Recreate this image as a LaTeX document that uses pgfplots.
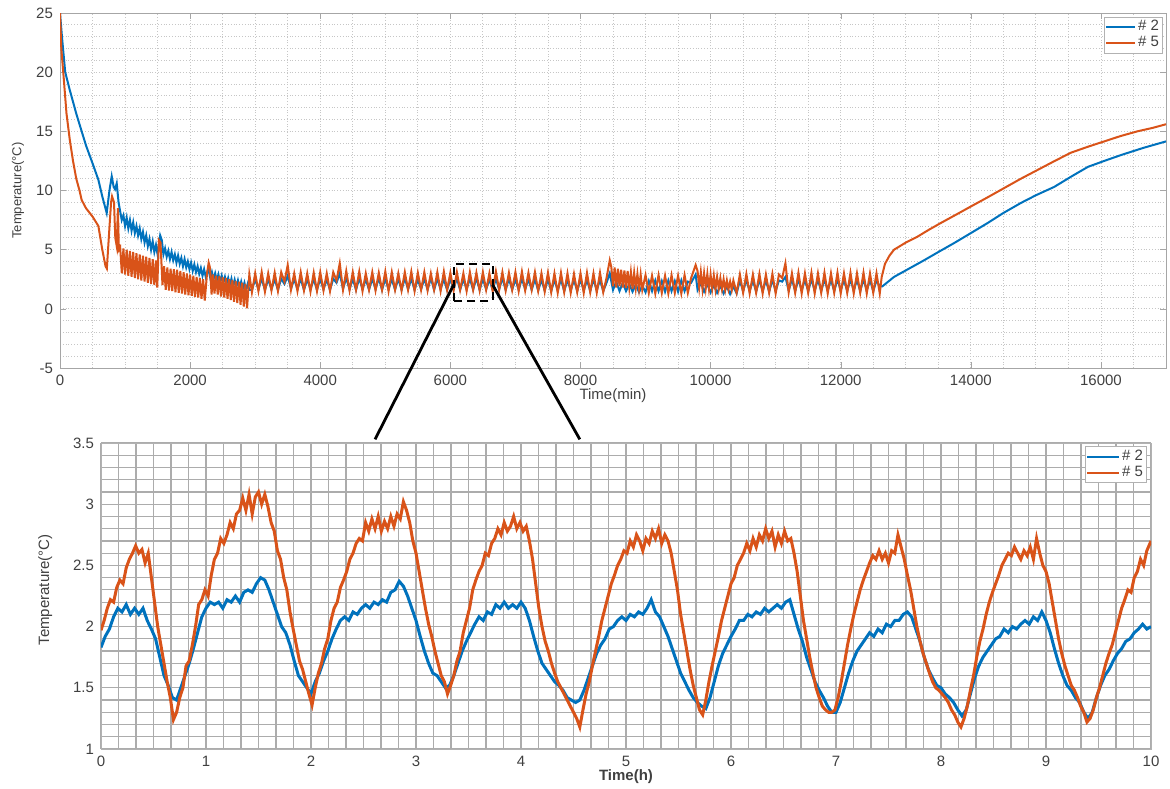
\documentclass[border=0pt]{standalone}
\usepackage{pgfplots}
\pgfplotsset{compat=1.18}
\usepackage{fontspec}
\setmainfont{Liberation Sans}
\definecolor{mblue}{rgb}{0,0.447,0.741}
\definecolor{morange}{rgb}{0.85,0.325,0.098}
\definecolor{tickc}{gray}{0.25}
\begin{document}
\begin{tikzpicture}
\useasboundingbox (0,0) rectangle (585pt,-394pt);
% ---------------- top axis ----------------
\begin{axis}[
  at={(30pt,-184pt)}, anchor=south west,
  width=553pt, height=177.5pt, scale only axis,
  xmin=0, xmax=17000, ymin=-5, ymax=25,
  xtick={0,2000,...,16000}, minor xtick={0,500,...,17000},
  ytick={-5,0,...,25}, minor ytick={-5,-4,...,25},
  grid=both,
  major grid style={gray!45, densely dotted, line width=0.4pt},
  minor grid style={gray!45, densely dotted, line width=0.4pt},
  minor tick length=0pt, major tick length=3pt,
  axis line style={gray!70}, tick style={gray!70},
  scaled x ticks=false,
  /pgf/number format/assume math mode=true,
  xticklabel style={/pgf/number format/1000 sep={}},
  tick label style={font=\fontsize{7.5}{9}\selectfont, text=tickc},
  xlabel={Time(min)}, ylabel={Temperature(°C)},
  xlabel style={at={(axis description cs:0.5,-0.078)}, anchor=center, font=\fontsize{7.5}{9}\selectfont, text=tickc},
  ylabel style={at={(axis description cs:-0.038,0.5)}, anchor=center, font=\fontsize{6.5}{8}\selectfont, text=tickc},
  legend style={at={(0.997,0.99)}, anchor=north east, font=\fontsize{7.5}{8}\selectfont, text=tickc, draw=gray!60, inner sep=0.5pt, row sep=-1pt, nodes={inner sep=1.2pt}, legend cell align=left},
  legend image code/.code={\draw[#1, line width=0.9pt] (0cm,0cm) -- (0.5cm,0cm);},
]
\addplot[mblue, line width=1pt] coordinates {
(0,25)(30,23)(80,20)(150,18.5)(250,16.5)(333,15)(400,13.8)(500,12.3)(590,10.9)(650,9.5)(718,8.1)(760,10)(795,11.2)(825,10.3)(846,10.1)(872,10.6)(900,9)(949,7.5)
(975,7.9)(1000,7.0)(1025,7.7)(1050,6.8)(1075,7.5)(1100,6.6)(1125,7.3)(1150,6.4)(1175,7.0)(1200,6.2)(1225,6.8)(1250,5.9)(1275,6.5)(1300,5.6)(1325,6.2)(1350,5.3)(1375,5.9)(1400,5.0)(1425,5.7)(1450,4.8)(1475,5.4)(1500,4.6)(1540,6.2)(1565,5.8)(1590,4.6)
(1615,5.1)(1640,4.4)(1665,4.9)(1690,4.2)(1715,4.8)(1740,4.1)(1765,4.6)(1790,3.9)(1815,4.5)(1840,3.8)(1865,4.3)(1890,3.6)(1915,4.2)(1940,3.5)(1965,4.0)(1990,3.35)(2015,3.9)(2040,3.2)(2065,3.75)(2090,3.1)(2115,3.6)(2140,2.95)(2165,3.45)(2190,2.8)(2215,3.35)(2240,2.7)(2280,3.4)(2310,2.6)
(2335,3.1)(2360,2.5)(2385,3.0)(2410,2.4)(2435,2.9)(2460,2.3)(2485,2.8)(2510,2.2)(2535,2.7)(2560,2.1)(2585,2.6)(2610,2.0)(2635,2.55)(2660,1.9)(2685,2.45)(2710,1.85)(2735,2.4)(2760,1.75)(2785,2.3)(2810,1.7)(2835,2.2)(2860,1.6)(2885,2.1)(2910,1.6)(2950,1.6)
(3000,2.5)(3050,1.65)(3100,2.55)(3150,1.6)(3200,2.5)(3250,1.65)(3300,2.5)(3350,1.6)(3400,2.55)(3450,2.1)(3500,2.8)(3550,1.7)(3600,2.5)(3650,1.65)(3700,2.55)(3750,1.6)(3800,2.5)(3850,1.65)(3900,2.5)(3950,1.6)
(4000,2.55)(4050,1.65)(4100,2.5)(4150,1.6)(4200,2.55)(4250,2.2)(4300,3.0)(4350,1.7)(4400,2.6)(4450,1.65)(4500,2.55)(4550,1.6)(4600,2.6)(4650,1.65)(4700,2.5)(4750,1.62)(4800,2.55)(4850,1.65)(4900,2.6)(4950,1.6)
(5000,2.55)(5050,1.65)(5100,2.5)(5150,1.62)(5200,2.55)(5250,1.6)(5300,2.6)(5350,1.65)(5400,2.55)(5450,1.6)(5500,2.5)(5550,1.65)(5600,2.55)(5650,1.62)(5700,2.6)(5750,1.6)(5800,2.55)(5850,1.65)(5900,2.5)(5950,1.6)
(6000,2.55)(6050,1.65)(6100,2.6)(6150,1.6)(6200,2.5)(6250,1.65)(6300,2.55)(6350,1.62)(6400,2.6)(6450,1.6)(6500,2.55)(6550,1.65)(6600,2.5)(6650,1.6)(6700,2.55)(6750,1.65)(6800,2.6)(6850,1.6)(6900,2.55)(6950,1.62)
(7000,2.5)(7050,1.6)(7100,2.55)(7150,1.65)(7200,2.5)(7250,1.6)(7300,2.5)(7350,1.55)(7400,2.45)(7450,1.55)(7500,2.5)(7550,1.5)(7600,2.45)(7650,1.55)(7700,2.5)(7750,1.5)(7800,2.45)(7850,1.55)(7900,2.45)(7950,1.5)
(8000,2.5)(8050,1.55)(8100,2.45)(8150,1.5)(8200,2.5)(8250,1.55)(8300,2.45)(8350,1.5)(8400,2.2)(8450,3.0)(8500,1.6)(8550,2.3)(8600,1.5)(8650,2.2)(8700,1.5)(8750,2.1)(8800,1.45)(8850,2.05)(8900,1.4)(8950,1.95)
(9000,1.4)(9050,2.35)(9100,1.5)(9150,2.4)(9200,1.5)(9250,2.35)(9300,1.45)(9350,2.4)(9400,1.5)(9450,2.35)(9500,1.45)(9550,2.4)(9600,1.5)(9650,2.3)(9700,2.2)(9770,2.9)(9800,1.6)(9850,2.2)(9900,1.45)(9950,2.1)
(10000,1.4)(10050,2.0)(10100,1.35)(10150,1.95)(10200,1.3)(10250,1.9)(10300,1.25)(10350,1.9)(10400,1.3)(10450,2.4)(10500,1.5)(10550,2.45)(10600,1.5)(10650,2.4)(10700,1.45)(10750,2.45)(10800,1.5)(10850,2.4)(10900,1.45)(10950,2.45)
(11000,1.5)(11050,2.4)(11100,2.3)(11150,2.7)(11200,1.55)(11250,2.5)(11300,1.5)(11350,2.5)(11400,1.55)(11450,2.45)(11500,1.5)(11550,2.5)(11600,1.55)(11650,2.45)(11700,1.5)(11750,2.5)(11800,1.55)(11850,2.45)(11900,1.5)(11950,2.5)
(12000,1.55)(12050,2.45)(12100,1.5)(12150,2.5)(12200,1.55)(12250,2.45)(12300,1.5)(12350,2.5)(12400,1.55)(12450,2.45)(12500,1.5)(12550,2.4)(12600,1.9)(12640,1.9)
(12820,2.7)(13050,3.4)(13280,4.1)(13500,4.8)(13740,5.55)(14000,6.4)(14260,7.26)(14500,8.1)(14770,8.95)(15000,9.6)(15280,10.3)(15550,11.2)(15800,12.0)(16050,12.5)(16310,13.0)(16650,13.6)(17000,14.15)
};
\addlegendentry{\# 2}
\addplot[morange, line width=1pt] coordinates {
(0,25)(20,22)(50,20)(100,16.5)(150,14.3)(200,12.5)(250,11)(300,10)(333,9.2)(400,8.5)(500,7.8)(590,7.0)(650,5)(700,3.6)(720,3.4)(750,6)(785,9.0)(800,9.5)(830,9.0)(850,6)(872,5.3)(890,8.5)(905,5.0)
(925,5.2)(950,3.0)(975,5.1)(1000,2.9)(1025,5.0)(1050,2.8)(1075,4.9)(1100,2.7)(1125,4.8)(1150,2.6)(1175,4.7)(1200,2.5)(1225,4.6)(1250,2.4)(1275,4.5)(1300,2.3)(1325,4.4)(1350,2.2)(1375,4.3)(1400,2.1)(1425,4.2)(1450,2.0)(1475,4.1)(1495,1.8)
(1520,5.8)(1545,5.6)(1575,2.0)
(1600,3.6)(1625,1.6)(1650,3.5)(1675,1.55)(1700,3.4)(1725,1.5)(1750,3.35)(1775,1.4)(1800,3.3)(1825,1.35)(1850,3.2)(1875,1.3)(1900,3.1)(1925,1.2)(1950,3.0)(1975,1.15)(2000,2.9)(2025,1.1)(2050,2.8)(2075,1.0)(2100,2.7)(2125,0.95)(2150,2.6)(2175,0.85)(2200,2.5)(2225,0.7)
(2260,3.0)(2285,3.9)(2305,3.5)(2330,1.2)
(2350,2.9)(2375,1.3)(2400,2.8)(2425,1.2)(2450,2.75)(2475,1.05)(2500,2.7)(2525,0.95)(2550,2.6)(2575,0.85)(2600,2.5)(2625,0.75)(2650,2.45)(2675,0.6)(2700,2.35)(2725,0.5)(2750,2.3)(2775,0.35)(2800,2.2)(2825,0.2)(2850,2.1)(2875,0.05)
(2910,2.9)(2950,1.4)(3000,3.0)(3050,1.5)(3100,3.1)(3150,1.45)(3200,3.0)(3250,1.55)(3300,3.05)(3350,1.5)(3400,3.1)(3450,2.3)(3500,3.7)(3550,1.6)(3600,3.0)(3650,1.5)(3700,3.1)(3750,1.55)(3800,3.0)(3850,1.45)(3900,3.05)(3950,1.5)
(4000,3.1)(4050,1.55)(4100,3.0)(4150,1.5)(4200,3.1)(4250,2.4)(4300,3.85)(4350,1.6)(4400,3.2)(4450,1.55)(4500,3.1)(4550,1.6)(4600,3.15)(4650,1.5)(4700,3.0)(4750,1.6)(4800,3.1)(4850,1.55)(4900,3.05)(4950,1.6)
(5000,3.15)(5050,1.5)(5100,3.1)(5150,1.6)(5200,3.0)(5250,1.55)(5300,3.1)(5350,1.6)(5400,3.15)(5450,1.5)(5500,3.05)(5550,1.6)(5600,3.1)(5650,1.55)(5700,3.0)(5750,1.6)(5800,3.1)(5850,1.5)(5900,3.15)(5950,1.6)
(6000,3.05)(6050,1.55)(6100,3.1)(6150,1.6)(6200,3.0)(6250,1.5)(6300,3.1)(6350,1.6)(6400,3.05)(6450,1.55)(6500,3.1)(6550,1.6)(6600,3.0)(6650,1.5)(6700,3.15)(6750,1.6)(6800,3.1)(6850,1.55)(6900,3.05)(6950,1.6)
(7000,3.1)(7050,1.5)(7100,3.15)(7150,1.55)(7200,3.05)(7250,1.6)(7300,3.1)(7350,1.5)(7400,3.0)(7450,1.45)(7500,3.05)(7550,1.4)(7600,3.0)(7650,1.35)(7700,3.05)(7750,1.4)(7800,3.0)(7850,1.35)(7900,2.95)(7950,1.4)
(8000,3.0)(8050,1.35)(8100,3.05)(8150,1.4)(8200,3.0)(8250,1.35)(8300,3.05)(8350,1.4)(8400,2.6)(8450,4.1)(8475,3.5)(8500,1.9)(8525,3.5)(8550,1.8)(8575,3.4)(8600,1.9)(8625,3.3)(8650,1.8)(8675,3.25)(8700,1.75)(8725,3.2)(8750,1.8)(8775,3.1)(8800,1.7)(8825,3.05)(8850,1.75)(8875,2.95)(8900,1.7)(8925,2.9)(8950,1.6)
(9000,2.85)(9050,1.35)(9100,2.8)(9150,1.3)(9200,2.85)(9250,1.35)(9300,2.8)(9350,1.3)(9400,2.85)(9450,1.35)(9500,2.8)(9550,1.3)(9600,2.85)(9650,1.35)(9700,2.6)(9770,3.7)(9800,3.2)(9825,1.8)(9850,3.1)(9875,1.7)(9900,3.0)(9925,1.75)(9950,2.95)(9975,1.7)
(10000,2.9)(10025,1.7)(10050,2.8)(10075,1.65)(10100,2.7)(10125,1.7)(10150,2.6)(10175,1.65)(10200,2.5)(10225,1.6)(10250,2.4)(10275,1.65)(10300,2.3)(10325,1.6)(10350,2.4)(10400,1.35)(10450,2.9)(10500,1.35)(10550,2.95)(10600,1.3)(10650,2.9)(10700,1.35)(10750,2.95)(10800,1.3)(10850,2.9)(10900,1.35)(10950,2.95)
(11000,1.3)(11050,2.9)(11100,2.6)(11150,3.85)(11200,1.4)(11250,3.0)(11300,1.35)(11350,3.05)(11400,1.3)(11450,3.0)(11500,1.35)(11550,3.05)(11600,1.3)(11650,3.0)(11700,1.35)(11750,3.05)(11800,1.3)(11850,3.0)(11900,1.35)(11950,3.05)
(12000,1.3)(12050,3.0)(12100,1.35)(12150,3.05)(12200,1.3)(12250,3.0)(12300,1.35)(12350,3.05)(12400,1.3)(12450,3.0)(12500,1.35)(12550,3.0)(12600,1.3)(12630,2.7)
(12680,3.8)(12750,4.5)(12820,5.0)(13000,5.6)(13180,6.1)(13360,6.7)(13540,7.26)(13770,7.95)(14000,8.65)(14250,9.4)(14510,10.2)(14770,11.0)(15030,11.75)(15290,12.5)(15540,13.2)(15800,13.7)(16050,14.15)(16300,14.6)(16560,15.0)(16800,15.3)(17000,15.6)
};
\addlegendentry{\# 5}
\draw[black, line width=1pt, dash pattern=on 4pt off 2.5pt] (axis cs:6050,0.7) rectangle (axis cs:6650,3.8);
\coordinate (tl) at (axis cs:6050,2.03);
\coordinate (tr) at (axis cs:6650,2.03);
\end{axis}
% ---------------- bottom axis ----------------
\begin{axis}[
  at={(50.5pt,-374.5pt)}, anchor=south west,
  width=525pt, height=153pt, scale only axis,
  xmin=0, xmax=10, ymin=1, ymax=3.5,
  xtick={0,1,...,10}, minor x tick num=5,
  ytick={1,1.5,...,3.5}, minor y tick num=4,
  grid=both,
  major grid style={gray!65, line width=0.6pt},
  minor grid style={gray!65, line width=0.6pt},
  minor tick length=0pt, major tick length=0pt,
  axis line style={gray!60},
  /pgf/number format/assume math mode=true,
  tick label style={font=\fontsize{7.5}{9}\selectfont, text=tickc},
  xlabel={\textbf{Time(h)}}, ylabel={Temperature(°C)},
  xlabel style={at={(axis description cs:0.5,-0.09)}, anchor=center, font=\fontsize{7.5}{9}\selectfont, text=tickc},
  ylabel style={at={(axis description cs:-0.053,0.52)}, anchor=center, font=\fontsize{7.5}{8}\selectfont, text=tickc},
  legend style={at={(0.996,0.99)}, anchor=north east, font=\fontsize{7.5}{8}\selectfont, text=tickc, draw=gray!60, inner sep=0.5pt, row sep=-1pt, nodes={inner sep=1.2pt}, legend cell align=left},
  legend image code/.code={\draw[#1, line width=1.1pt] (0cm,0cm) -- (0.55cm,0cm);},
]
\addplot[mblue, line width=1.5pt] coordinates {
(0,1.83)(0.04,1.92)(0.08,1.98)(0.12,2.08)(0.16,2.15)(0.2,2.12)(0.24,2.18)(0.28,2.1)(0.32,2.15)(0.36,2.1)(0.4,2.15)(0.44,2.05)(0.48,1.98)(0.52,1.9)(0.56,1.75)(0.6,1.6)(0.64,1.52)(0.68,1.42)(0.72,1.4)(0.76,1.5)(0.8,1.6)(0.84,1.7)(0.88,1.82)(0.92,1.95)(0.96,2.08)
(1.0,2.15)(1.04,2.2)(1.08,2.18)(1.12,2.2)(1.16,2.15)(1.2,2.22)(1.24,2.2)(1.28,2.25)(1.32,2.2)(1.36,2.28)(1.4,2.3)(1.44,2.28)(1.48,2.35)(1.52,2.4)(1.56,2.38)(1.6,2.3)(1.64,2.2)(1.68,2.1)(1.72,2.0)(1.76,1.95)(1.8,1.85)(1.84,1.72)(1.88,1.6)(1.92,1.55)(1.96,1.5)
(2.0,1.45)(2.04,1.55)(2.08,1.62)(2.12,1.72)(2.16,1.8)(2.2,1.9)(2.24,1.98)(2.28,2.05)(2.32,2.08)(2.36,2.05)(2.4,2.12)(2.44,2.1)(2.48,2.15)(2.52,2.18)(2.56,2.15)(2.6,2.2)(2.64,2.18)(2.68,2.22)(2.72,2.2)(2.76,2.28)(2.8,2.3)(2.84,2.37)(2.88,2.33)(2.92,2.25)(2.96,2.15)
(3.0,2.05)(3.04,1.92)(3.08,1.8)(3.12,1.7)(3.16,1.62)(3.2,1.6)(3.24,1.55)(3.28,1.5)(3.32,1.52)(3.36,1.6)(3.4,1.7)(3.44,1.8)(3.48,1.88)(3.52,1.95)(3.56,2.02)(3.6,2.08)(3.64,2.05)(3.68,2.12)(3.72,2.1)(3.76,2.18)(3.8,2.15)(3.84,2.2)(3.88,2.15)(3.92,2.18)(3.96,2.15)
(4.0,2.2)(4.04,2.15)(4.08,2.05)(4.12,1.92)(4.16,1.8)(4.2,1.7)(4.24,1.65)(4.28,1.6)(4.32,1.55)(4.36,1.52)(4.4,1.48)(4.44,1.42)(4.48,1.4)(4.52,1.38)(4.56,1.4)(4.6,1.48)(4.64,1.58)(4.68,1.68)(4.72,1.78)(4.76,1.85)(4.8,1.9)(4.84,1.98)(4.88,2.0)(4.92,2.05)(4.96,2.08)
(5.0,2.05)(5.04,2.1)(5.08,2.08)(5.12,2.12)(5.16,2.1)(5.2,2.15)(5.24,2.22)(5.28,2.12)(5.32,2.08)(5.36,2.0)(5.4,1.92)(5.44,1.82)(5.48,1.72)(5.52,1.62)(5.56,1.55)(5.6,1.48)(5.64,1.42)(5.68,1.38)(5.72,1.35)(5.76,1.33)(5.8,1.42)(5.84,1.55)(5.88,1.68)(5.92,1.78)(5.96,1.85)
(6.0,1.92)(6.04,1.98)(6.08,2.05)(6.12,2.05)(6.16,2.1)(6.2,2.08)(6.24,2.12)(6.28,2.1)(6.32,2.15)(6.36,2.12)(6.4,2.15)(6.44,2.18)(6.48,2.15)(6.52,2.2)(6.56,2.22)(6.6,2.1)(6.64,1.98)(6.68,1.88)(6.72,1.75)(6.76,1.65)(6.8,1.55)(6.84,1.48)(6.88,1.42)(6.92,1.35)(6.96,1.3)
(7.0,1.3)(7.04,1.38)(7.08,1.5)(7.12,1.62)(7.16,1.72)(7.2,1.8)(7.24,1.85)(7.28,1.9)(7.32,1.95)(7.36,1.92)(7.4,1.98)(7.44,1.95)(7.48,2.02)(7.52,2.0)(7.56,2.05)(7.6,2.05)(7.64,2.1)(7.68,2.12)(7.72,2.08)(7.76,1.98)(7.8,1.88)(7.84,1.75)(7.88,1.65)(7.92,1.58)(7.96,1.52)
(8.0,1.5)(8.04,1.45)(8.08,1.42)(8.12,1.38)(8.16,1.32)(8.2,1.27)(8.24,1.32)(8.28,1.45)(8.32,1.58)(8.36,1.68)(8.4,1.75)(8.44,1.8)(8.48,1.85)(8.52,1.9)(8.56,1.92)(8.6,1.98)(8.64,1.95)(8.68,2.0)(8.72,1.98)(8.76,2.02)(8.8,2.05)(8.84,2.02)(8.88,2.08)(8.92,2.05)(8.96,2.12)
(9.0,2.05)(9.04,1.95)(9.08,1.82)(9.12,1.7)(9.16,1.6)(9.2,1.52)(9.24,1.48)(9.28,1.42)(9.32,1.38)(9.36,1.3)(9.4,1.25)(9.44,1.3)(9.48,1.42)(9.52,1.52)(9.56,1.6)(9.6,1.65)(9.64,1.72)(9.68,1.78)(9.72,1.82)(9.76,1.88)(9.8,1.9)(9.84,1.95)(9.88,1.98)(9.92,2.02)(9.96,1.98)(10.0,2.0)
};
\addlegendentry{\# 2}
\addplot[morange, line width=1.5pt] coordinates {
(0,1.97)(0.03,2.05)(0.06,2.15)(0.09,2.22)(0.12,2.2)(0.15,2.32)(0.18,2.38)(0.21,2.35)(0.24,2.48)(0.27,2.55)(0.3,2.6)(0.33,2.66)(0.36,2.6)(0.39,2.63)(0.42,2.52)(0.45,2.6)(0.48,2.4)(0.51,2.2)(0.54,2.0)(0.57,1.85)(0.6,1.7)(0.63,1.55)(0.66,1.42)(0.69,1.24)(0.72,1.3)(0.75,1.42)(0.78,1.5)(0.81,1.68)(0.84,1.72)(0.87,1.85)(0.9,2.0)(0.93,2.18)(0.96,2.22)(0.99,2.3)
(1.02,2.25)(1.05,2.42)(1.08,2.55)(1.11,2.6)(1.14,2.72)(1.17,2.68)(1.2,2.75)(1.23,2.85)(1.26,2.8)(1.29,2.92)(1.32,2.95)(1.35,3.05)(1.38,2.95)(1.41,3.08)(1.44,2.92)(1.47,3.06)(1.5,3.1)(1.53,3.0)(1.56,3.08)(1.59,2.98)(1.62,2.85)(1.65,2.78)(1.68,2.62)(1.71,2.55)(1.74,2.4)(1.77,2.3)(1.8,2.12)(1.83,1.98)(1.86,1.85)(1.89,1.72)(1.92,1.65)(1.95,1.55)(1.98,1.45)
(2.01,1.36)(2.04,1.5)(2.07,1.62)(2.1,1.7)(2.13,1.82)(2.16,1.9)(2.19,2.05)(2.22,2.15)(2.25,2.2)(2.28,2.32)(2.31,2.38)(2.34,2.45)(2.37,2.55)(2.4,2.6)(2.43,2.68)(2.46,2.72)(2.49,2.7)(2.52,2.85)(2.55,2.78)(2.58,2.88)(2.61,2.8)(2.64,2.9)(2.67,2.78)(2.7,2.86)(2.73,2.8)(2.76,2.9)(2.79,2.82)(2.82,2.92)(2.85,2.88)(2.88,3.02)(2.91,2.95)(2.94,2.85)(2.97,2.7)
(3.0,2.6)(3.03,2.45)(3.06,2.3)(3.09,2.15)(3.12,2.02)(3.15,1.92)(3.18,1.8)(3.21,1.7)(3.24,1.6)(3.27,1.55)(3.3,1.45)(3.33,1.52)(3.36,1.6)(3.39,1.72)(3.42,1.8)(3.45,1.95)(3.48,2.05)(3.51,2.15)(3.54,2.3)(3.57,2.38)(3.6,2.45)(3.63,2.5)(3.66,2.6)(3.69,2.58)(3.72,2.68)(3.75,2.72)(3.78,2.8)(3.81,2.75)(3.84,2.85)(3.87,2.78)(3.9,2.82)(3.93,2.9)(3.96,2.8)(3.99,2.85)
(4.02,2.78)(4.05,2.82)(4.08,2.7)(4.11,2.55)(4.14,2.35)(4.17,2.15)(4.2,2.0)(4.23,1.88)(4.26,1.8)(4.29,1.7)(4.32,1.62)(4.35,1.55)(4.38,1.5)(4.41,1.45)(4.44,1.4)(4.47,1.35)(4.5,1.3)(4.53,1.25)(4.56,1.18)(4.59,1.32)(4.62,1.45)(4.65,1.55)(4.68,1.68)(4.71,1.8)(4.74,1.92)(4.77,2.05)(4.8,2.15)(4.83,2.25)(4.86,2.35)(4.89,2.42)(4.92,2.5)(4.95,2.55)(4.98,2.62)
(5.01,2.6)(5.04,2.7)(5.07,2.65)(5.1,2.75)(5.13,2.7)(5.16,2.62)(5.19,2.72)(5.22,2.68)(5.25,2.78)(5.28,2.72)(5.31,2.8)(5.34,2.68)(5.37,2.75)(5.4,2.7)(5.43,2.6)(5.46,2.45)(5.49,2.3)(5.52,2.1)(5.55,1.95)(5.58,1.8)(5.61,1.65)(5.64,1.52)(5.67,1.42)(5.7,1.32)(5.73,1.28)(5.76,1.4)(5.79,1.55)(5.82,1.68)(5.85,1.8)(5.88,1.92)(5.91,2.05)(5.94,2.15)(5.97,2.25)
(6.0,2.35)(6.03,2.4)(6.06,2.5)(6.09,2.55)(6.12,2.6)(6.15,2.68)(6.18,2.62)(6.21,2.72)(6.24,2.65)(6.27,2.75)(6.3,2.7)(6.33,2.8)(6.36,2.72)(6.39,2.78)(6.42,2.65)(6.45,2.75)(6.48,2.68)(6.51,2.78)(6.54,2.7)(6.57,2.72)(6.6,2.6)(6.63,2.45)(6.66,2.25)(6.69,2.05)(6.72,1.9)(6.75,1.75)(6.78,1.62)(6.81,1.5)(6.84,1.42)(6.87,1.35)(6.9,1.32)(6.93,1.3)(6.96,1.3)(6.99,1.32)
(7.02,1.42)(7.05,1.55)(7.08,1.7)(7.11,1.85)(7.14,1.98)(7.17,2.1)(7.2,2.2)(7.23,2.3)(7.26,2.38)(7.29,2.45)(7.32,2.52)(7.35,2.58)(7.38,2.55)(7.41,2.62)(7.44,2.55)(7.47,2.6)(7.5,2.52)(7.53,2.62)(7.56,2.6)(7.59,2.75)(7.62,2.65)(7.65,2.55)(7.68,2.42)(7.71,2.3)(7.74,2.15)(7.77,2.0)(7.8,1.88)(7.83,1.78)(7.86,1.7)(7.89,1.62)(7.92,1.55)(7.95,1.5)(7.98,1.48)
(8.01,1.45)(8.04,1.42)(8.07,1.38)(8.1,1.32)(8.13,1.28)(8.16,1.22)(8.19,1.18)(8.22,1.25)(8.25,1.35)(8.28,1.48)(8.31,1.6)(8.34,1.75)(8.37,1.88)(8.4,1.98)(8.43,2.1)(8.46,2.2)(8.49,2.28)(8.52,2.35)(8.55,2.42)(8.58,2.5)(8.61,2.55)(8.64,2.6)(8.67,2.58)(8.7,2.65)(8.73,2.6)(8.76,2.55)(8.79,2.62)(8.82,2.58)(8.85,2.65)(8.88,2.55)(8.91,2.72)(8.94,2.6)(8.97,2.5)
(9.0,2.45)(9.03,2.35)(9.06,2.2)(9.09,2.05)(9.12,1.9)(9.15,1.78)(9.18,1.68)(9.21,1.6)(9.24,1.52)(9.27,1.48)(9.3,1.42)(9.33,1.35)(9.36,1.3)(9.39,1.22)(9.42,1.25)(9.45,1.32)(9.48,1.42)(9.51,1.5)(9.54,1.6)(9.57,1.7)(9.6,1.78)(9.63,1.85)(9.66,1.95)(9.69,2.05)(9.72,2.15)(9.75,2.22)(9.78,2.3)(9.81,2.28)(9.84,2.4)(9.87,2.45)(9.9,2.55)(9.93,2.5)(9.96,2.62)(10.0,2.7)
};
\addlegendentry{\# 5}
\coordinate (bl) at (axis cs:2.61,3.53);
\coordinate (br) at (axis cs:4.56,3.53);
\end{axis}
\draw[black, line width=1.4pt] (tl) -- (bl) (tr) -- (br);
\end{tikzpicture}
\end{document}
